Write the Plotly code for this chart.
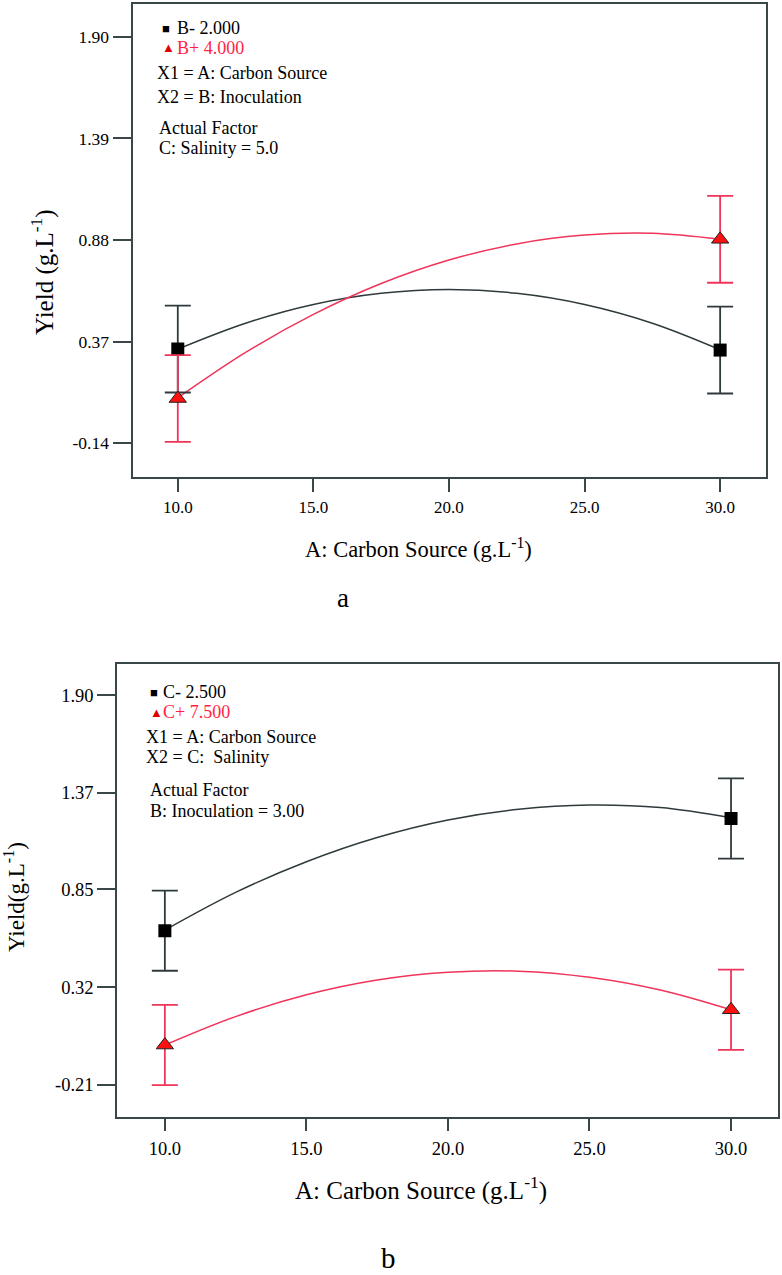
import plotly.graph_objects as go

# curve values (x = carbon source)
x_curve = [10, 12.5, 15, 17.5, 20, 22.5, 25, 27.5, 30]

# panel a: B- / B+
a_minus_curve = [0.333, 0.463, 0.557, 0.613, 0.632, 0.613, 0.557, 0.463, 0.330]
a_plus_curve = [0.088, 0.316, 0.507, 0.662, 0.780, 0.861, 0.905, 0.914, 0.884]
# panel b: C- / C+
b_minus_curve = [0.628, 0.832, 0.998, 1.129, 1.224, 1.282, 1.305, 1.291, 1.236]
b_plus_curve = [0.006, 0.160, 0.278, 0.358, 0.400, 0.406, 0.373, 0.304, 0.197]

# end points with error bars
x_ends = [10, 30]
a_minus_pts = [0.333, 0.328]
a_plus_pts = [0.085, 0.884]
b_minus_pts = [0.625, 1.232]
b_plus_pts = [0.006, 0.197]
a_err = [0.218, 0.218]
b_err = [0.217, 0.217]

a_yticks = [1.90, 1.39, 0.88, 0.37, -0.14]
b_yticks = [1.90, 1.37, 0.85, 0.32, -0.21]
x_ticks = [10, 15, 20, 25, 30]

DARK = "#2f3a3c"
AXIS = "#3a4748"
RED = "#f0345a"
FONT = "Liberation Serif"

fig = go.Figure()


def add_panel(fig, xa, ya, minus_curve, plus_curve, minus_pts, plus_pts, err):
    fig.add_trace(go.Scatter(x=x_curve, y=minus_curve, mode="lines",
                             line=dict(color=DARK, width=1.5, shape="spline"),
                             xaxis=xa, yaxis=ya, showlegend=False))
    fig.add_trace(go.Scatter(x=x_curve, y=plus_curve, mode="lines",
                             line=dict(color=RED, width=1.5, shape="spline"),
                             xaxis=xa, yaxis=ya, showlegend=False))
    fig.add_trace(go.Scatter(x=x_ends, y=minus_pts, mode="markers",
                             marker=dict(symbol="square", size=13, color="black"),
                             error_y=dict(type="data", array=err, color=DARK,
                                          thickness=1.8, width=13),
                             xaxis=xa, yaxis=ya, showlegend=False))
    fig.add_trace(go.Scatter(x=x_ends, y=plus_pts, mode="markers",
                             marker=dict(symbol="triangle-up", size=15, color="#ff1010",
                                         line=dict(color="#222", width=1)),
                             error_y=dict(type="data", array=err, color=RED,
                                          thickness=1.8, width=13),
                             xaxis=xa, yaxis=ya, showlegend=False))


add_panel(fig, "x", "y", a_minus_curve, a_plus_curve, a_minus_pts, a_plus_pts, a_err)
add_panel(fig, "x2", "y2", b_minus_curve, b_plus_curve, b_minus_pts, b_plus_pts, b_err)

axis_common = dict(showline=True, mirror=True, linecolor=AXIS, linewidth=2,
                   ticks="outside", tickcolor=AXIS, tickwidth=1.5,
                   showgrid=False, zeroline=False)

H = 1275
W = 782

fig.update_layout(
    width=W, height=H,
    margin=dict(l=0, r=0, t=0, b=0),
    paper_bgcolor="white", plot_bgcolor="white",
    xaxis=dict(domain=[132.5 / W, 765.7 / W], range=[8.33, 31.68],
               tickvals=x_ticks, ticktext=[f"{v:.1f}" for v in x_ticks],
               ticklen=13, ticklabelstandoff=1, anchor="y",
               tickfont=dict(family=FONT, size=17, color="black"), **axis_common),
    yaxis=dict(domain=[1 - 477 / H, 1 - 4 / H], range=[-0.309, 2.065],
               tickvals=a_yticks, ticktext=[f"{v:.2f}" for v in a_yticks],
               ticklen=18, anchor="x",
               tickfont=dict(family=FONT, size=17.5, color="black"), **axis_common),
    xaxis2=dict(domain=[117.3 / W, 778.3 / W], range=[8.32, 31.67],
                tickvals=x_ticks, ticktext=[f"{v:.1f}" for v in x_ticks],
                ticklen=12, ticklabelstandoff=1, anchor="y2",
                tickfont=dict(family=FONT, size=18.5, color="black"), **axis_common),
    yaxis2=dict(domain=[1 - 1117.3 / H, 1 - 664 / H], range=[-0.385, 2.068],
                tickvals=b_yticks, ticktext=[f"{v:.2f}" for v in b_yticks],
                ticklen=18, anchor="x2",
                tickfont=dict(family=FONT, size=18.5, color="black"), **axis_common),
)


def txt(x, y, text, size=16, color="black", xanchor="left", angle=0):
    fig.add_annotation(x=x / W, y=1 - y / H, xref="paper", yref="paper",
                       text=text, showarrow=False, xanchor=xanchor, yanchor="middle",
                       textangle=angle,
                       font=dict(family=FONT, size=size, color=color))


# panel a legend / notes
txt(160, 28, "■", size=13)
txt(175, 28, "B- 2.000", size=18)
txt(160, 48, "▲", size=13, color="#e00000")
txt(175, 48, "B+ 4.000", size=18, color="#ff1f44")
txt(155, 73, "X1 = A: Carbon Source", size=18)
txt(155, 97, "X2 = B: Inoculation", size=18)
txt(157, 128, "Actual Factor", size=18)
txt(157, 148, "C: Salinity = 5.0", size=18)

# panel b legend / notes
txt(148, 692, "■", size=13)
txt(161, 692, "C- 2.500", size=18)
txt(148, 712, "▲", size=13, color="#e00000")
txt(161, 712, "C+ 7.500", size=18, color="#ff1f44")
txt(144, 737, "X1 = A: Carbon Source", size=18)
txt(144, 757, "X2 = C:  Salinity", size=18)
txt(148, 790, "Actual Factor", size=18)
txt(148, 811, "B: Inoculation = 3.00", size=18)

# axis titles and panel labels
txt(418, 548, "A: Carbon Source (g.L<sup>-1</sup>)", size=22.5, xanchor="center")
txt(42, 272, "Yield (g.L<sup>-1</sup>)", size=25, xanchor="center", angle=-90)
txt(343, 598, "a", size=27, xanchor="center")
txt(421, 1188, "A: Carbon Source (g.L<sup>-1</sup>)", size=25, xanchor="center")
txt(14, 897, "Yield(g.L<sup>-1</sup>)", size=23, xanchor="center", angle=-90)
txt(388, 1258, "b", size=29, xanchor="center")

fig.write_html("out.html", config={"displayModeBar": False},
               post_script="document.body.style.margin='0px';")
